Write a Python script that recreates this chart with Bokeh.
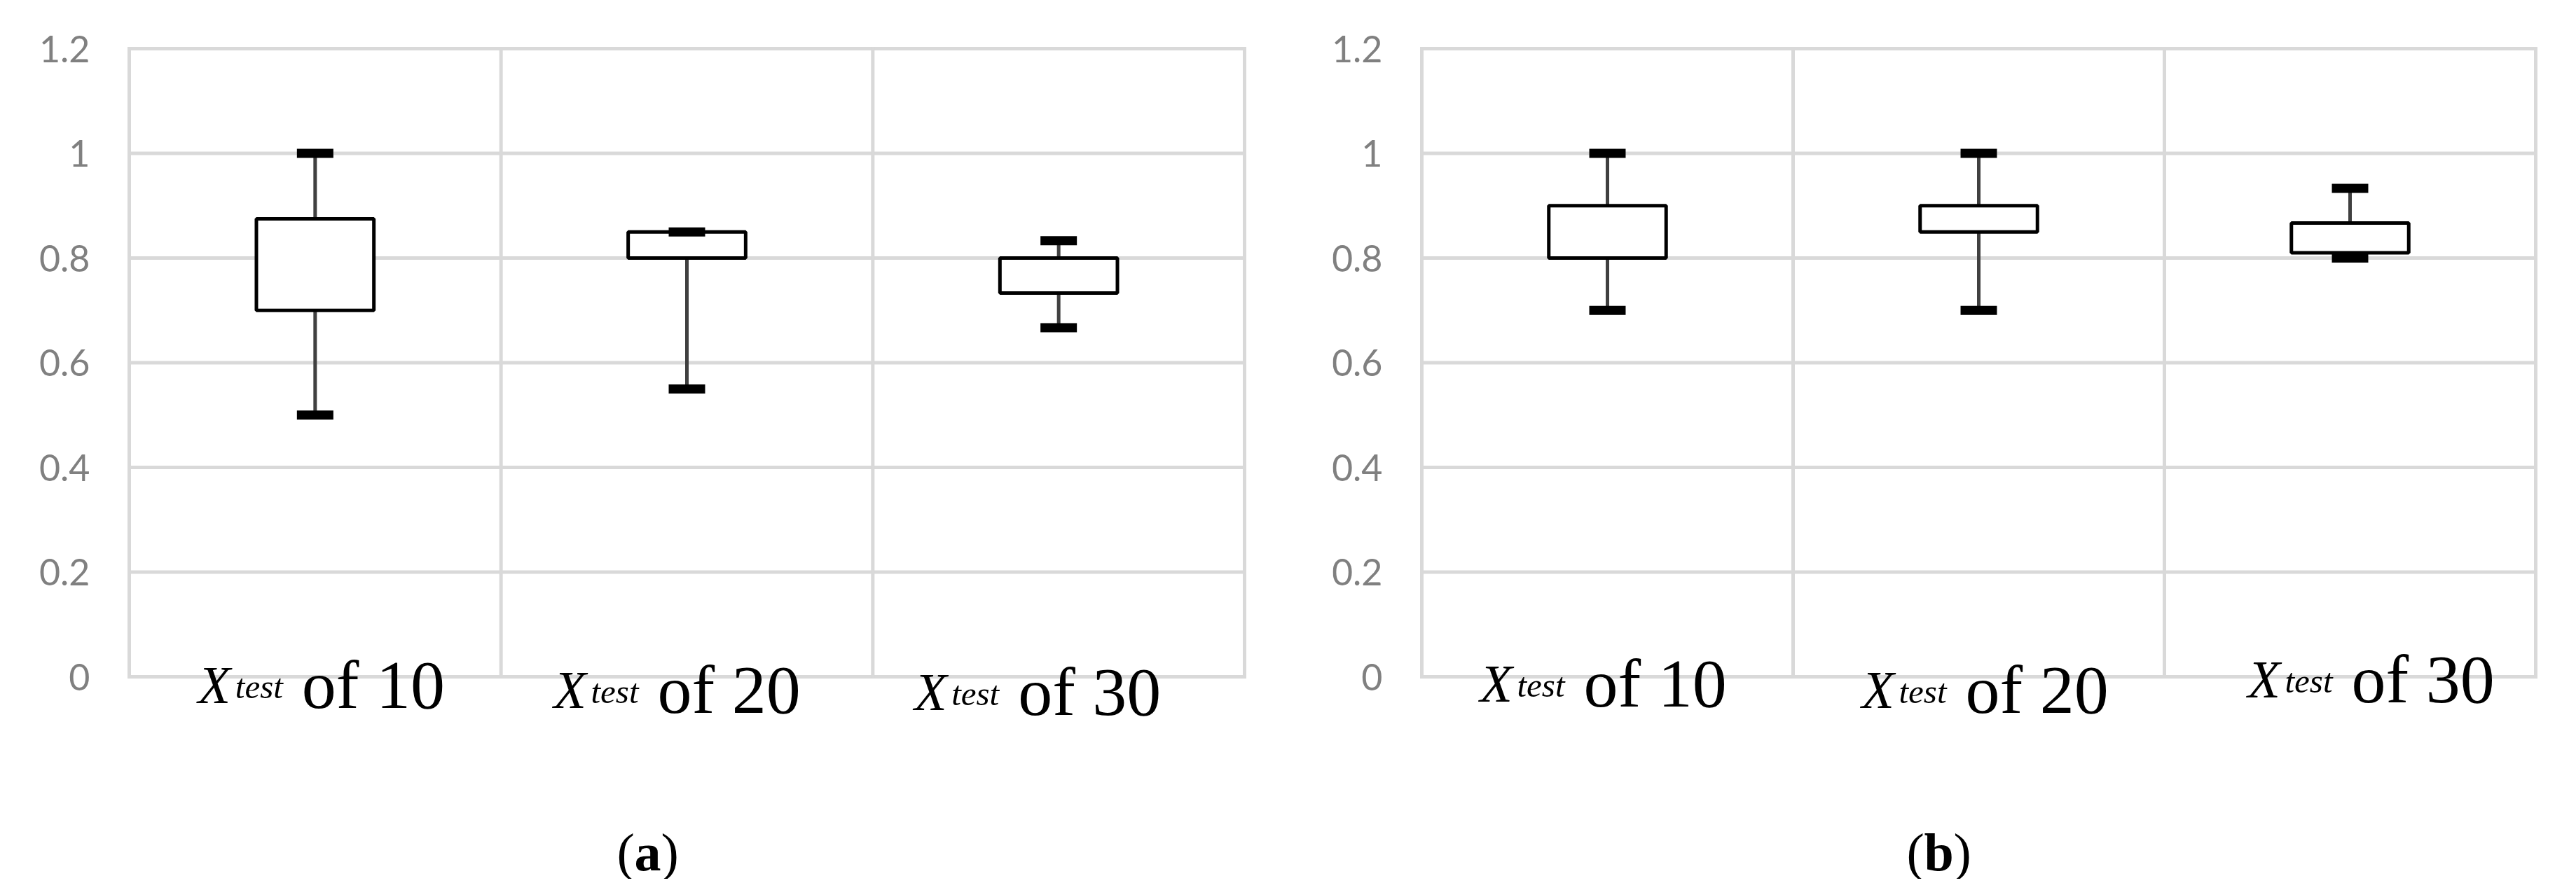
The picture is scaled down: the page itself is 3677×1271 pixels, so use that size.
from bokeh.plotting import figure
from bokeh.layouts import row
from bokeh.models import Range1d
from bokeh.core.properties import value
from bokeh.embed import file_html
from bokeh.resources import INLINE

# ---------------- data ----------------
categories = ["10", "20", "30"]
y_ticks = [0, 0.2, 0.4, 0.6, 0.8, 1.0, 1.2]
y_tick_labels = ["0", "0.2", "0.4", "0.6", "0.8", "1", "1.2"]

a_min = [0.50, 0.55, 0.667]
a_q1 = [0.70, 0.80, 0.733]
a_q3 = [0.875, 0.85, 0.80]
a_max = [1.00, 0.85, 0.833]

b_min = [0.70, 0.70, 0.80]
b_q1 = [0.80, 0.85, 0.81]
b_q3 = [0.90, 0.90, 0.867]
b_max = [1.00, 1.00, 0.933]

panel_names = ["a", "b"]

# ---------------- styling / layout ----------------
GRID = "#d9d9d9"
TICK_COLOR = "#808080"
SERIF = "Liberation Serif"
FIG_H = 1255
TOP = 69
BOTTOM = 289
FRAME_H = FIG_H - TOP - BOTTOM
PX_PER_UNIT = FRAME_H / 1.2
N = len(categories)


def make_panel(mins, q1s, q3s, maxs, letter, width, bl, br,
               label_center_off, label_base_below, letter_off):
    frame_w = width - bl - br
    cat_px = frame_w / N
    p = figure(width=width, height=FIG_H,
               x_range=Range1d(-bl / cat_px, N + br / cat_px),
               y_range=Range1d(-BOTTOM / PX_PER_UNIT, 1.2 + TOP / PX_PER_UNIT),
               output_backend="svg", toolbar_location=None,
               x_axis_type=None, y_axis_type=None,
               min_border=0, background_fill_color="white",
               border_fill_color="white", outline_line_color=None)
    p.grid.visible = False

    ymax = y_ticks[-1]
    # horizontal grid lines (incl. top & bottom frame)
    p.segment(x0=[0] * len(y_ticks), y0=y_ticks, x1=[N] * len(y_ticks), y1=y_ticks,
              line_color=GRID, line_width=5)
    # vertical grid lines (incl. left & right frame)
    vx = list(range(N + 1))
    p.segment(x0=vx, y0=[0] * len(vx), x1=vx, y1=[ymax] * len(vx),
              line_color=GRID, line_width=5, line_cap="square")

    # y tick labels
    p.text(x=[0] * len(y_ticks), y=y_ticks, text=y_tick_labels, x_offset=-56,
           text_align="right", text_baseline="middle", text_font=value("Lato"),
           text_font_size="52px", text_color=TICK_COLOR)

    xs = [i + 0.5 for i in range(N)]
    box_hw = 0.158
    cap_w = 0.098

    p.segment(x0=xs, y0=q3s, x1=xs, y1=maxs, line_color="#404040", line_width=5)
    p.segment(x0=xs, y0=q1s, x1=xs, y1=mins, line_color="#404040", line_width=5)
    p.quad(left=[x - box_hw for x in xs], right=[x + box_hw for x in xs],
           bottom=q1s, top=q3s, fill_color="white", line_color="black", line_width=5)
    p.rect(x=xs, y=maxs, width=cap_w, height=13, height_units="screen",
           fill_color="black", line_color=None)
    p.rect(x=xs, y=mins, width=cap_w, height=13, height_units="screen",
           fill_color="black", line_color=None)

    # category labels: X_test of N
    yb = [-d / PX_PER_UNIT for d in label_base_below]
    ys = [-(d + 3) / PX_PER_UNIT for d in label_base_below]
    p.text(x=xs, y=yb, x_offset=[o - 175 for o in label_center_off], text=["X"] * N,
           text_font=value(SERIF), text_font_size="76px", text_font_style="italic",
           text_baseline="alphabetic", text_align="left", text_color="black")
    p.text(x=xs, y=ys, x_offset=[o - 122 for o in label_center_off], text=["test"] * N,
           text_font=value(SERIF), text_font_size="49px", text_font_style="italic",
           text_baseline="alphabetic", text_align="left", text_color="black")
    p.text(x=xs, y=yb, x_offset=[o - 27 for o in label_center_off],
           text=["of " + c for c in categories],
           text_font=value(SERIF), text_font_size="98px", text_font_style="normal",
           text_baseline="alphabetic", text_align="left", text_color="black")

    # panel letter (a)/(b)
    yl = -250 / PX_PER_UNIT
    lw = 38 if letter == "a" else 42
    left = letter_off - (25 + lw + 25) // 2
    mid = N / 2
    p.text(x=[mid, mid], y=[yl, yl], x_offset=[left, left + 25 + lw], text=["(", ")"],
           text_font=value(SERIF), text_font_size="76px",
           text_baseline="alphabetic", text_align="left", text_color="black")
    p.text(x=[mid], y=[yl], x_offset=left + 25, text=[letter],
           text_font=value(SERIF), text_font_size="76px", text_font_style="bold",
           text_baseline="alphabetic", text_align="left", text_color="black")
    return p


pa = make_panel(a_min, a_q1, a_q3, a_max, panel_names[0], width=1902, bl=184, br=126,
                label_center_off=[8, -15, -31], label_base_below=[11, 18, 21], letter_off=-56)
pb = make_panel(b_min, b_q1, b_q3, b_max, panel_names[1], width=1750, bl=127, br=33,
                label_center_off=[-7, 8, 29], label_base_below=[9, 18, 3], letter_off=-57)

layout = row(pa, pb)
open("out.html", "w").write(file_html(layout, INLINE))
